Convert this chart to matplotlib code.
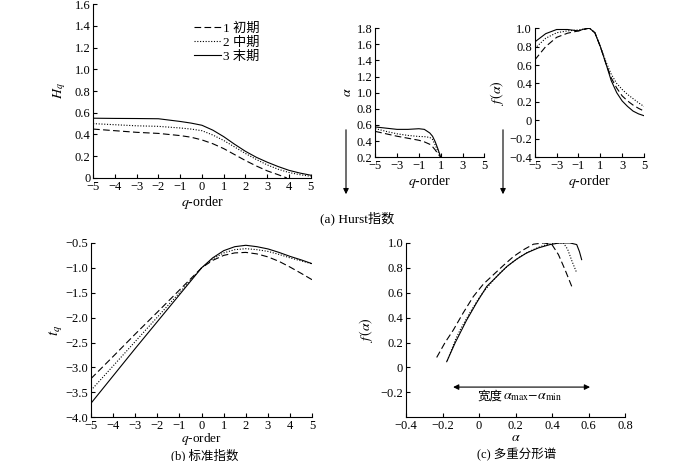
import matplotlib
matplotlib.use("Agg")
import matplotlib.pyplot as plt
from matplotlib.ticker import FuncFormatter
from matplotlib.patches import FancyArrowPatch

plt.rcParams['font.family'] = ['Liberation Serif', 'Noto Sans CJK SC']
plt.rcParams['mathtext.fontset'] = 'stix'
plt.rcParams['font.size'] = 9

labels = ['1 初期', '2 中期', '3 末期']
styles = [(0, (6, 3)), (0, (1, 1.5)), '-']

# (a) Hq
q_h1 = [-5, -4, -3, -2, -1, -0.5, 0, 0.5, 1, 1.5, 2, 2.5, 3, 3.5, 3.9]
hq1 = [0.45, 0.435, 0.42, 0.41, 0.39, 0.375, 0.35, 0.315, 0.27, 0.215, 0.16, 0.11, 0.065, 0.03, 0.0]
q_h = [-5, -4, -3, -2, -1, -0.5, 0, 0.5, 1, 1.5, 2, 2.5, 3, 3.5, 4, 4.5, 5]
hq2 = [0.50, 0.49, 0.48, 0.475, 0.46, 0.45, 0.435, 0.395, 0.345, 0.285, 0.225, 0.17, 0.12, 0.08, 0.05, 0.03, 0.015]
hq3 = [0.55, 0.548, 0.547, 0.545, 0.52, 0.505, 0.485, 0.44, 0.38, 0.31, 0.245, 0.19, 0.145, 0.105, 0.07, 0.045, 0.025]

# alpha vs q
q_a = [-5, -4, -3, -2, -1, -0.5, 0, 0.25, 0.5, 0.75, 1]
a1 = [0.52, 0.49, 0.46, 0.435, 0.41, 0.39, 0.36, 0.33, 0.29, 0.24, 0.2]
a2 = [0.555, 0.52, 0.49, 0.47, 0.457, 0.455, 0.445, 0.42, 0.35, 0.27, 0.2]
a3 = [0.575, 0.56, 0.545, 0.545, 0.553, 0.545, 0.50, 0.46, 0.39, 0.30, 0.2]

# f(alpha) vs q
q_f = [-5, -4, -3, -2, -1, -0.5, 0, 0.5, 1, 1.5, 2, 2.5, 3, 3.5, 4, 4.5, 5]
f1 = [0.655, 0.80, 0.90, 0.945, 0.97, 0.985, 1.0, 0.95, 0.80, 0.62, 0.46, 0.35, 0.265, 0.21, 0.165, 0.13, 0.10]
f2 = [0.78, 0.89, 0.95, 0.97, 0.98, 0.99, 1.0, 0.95, 0.80, 0.64, 0.50, 0.40, 0.335, 0.28, 0.235, 0.19, 0.15]
f3 = [0.85, 0.94, 0.985, 0.985, 0.97, 0.99, 1.0, 0.95, 0.80, 0.62, 0.43, 0.30, 0.21, 0.15, 0.10, 0.07, 0.05]

# (b) tq
q_t = [-5, -4, -3, -2, -1, 0, 0.5, 1, 1.5, 2, 2.5, 3, 3.5, 4, 4.5, 5]
t1 = [-3.225, -2.78, -2.33, -1.89, -1.445, -1.0, -0.85, -0.75, -0.70, -0.69, -0.72, -0.78, -0.87, -0.985, -1.11, -1.24]
t2 = [-3.46, -2.97, -2.48, -1.99, -1.50, -1.0, -0.82, -0.70, -0.635, -0.615, -0.635, -0.67, -0.73, -0.80, -0.86, -0.92]
t3 = [-3.72, -3.17, -2.62, -2.08, -1.54, -1.0, -0.80, -0.655, -0.575, -0.547, -0.575, -0.62, -0.69, -0.77, -0.84, -0.917]

# (c) spectrum
al1 = [-0.232, -0.186, -0.141, -0.086, -0.031, 0.024, 0.079, 0.134, 0.188, 0.243, 0.298, 0.353, 0.398, 0.435, 0.471, 0.508]
fa1 = [0.08, 0.20, 0.30, 0.44, 0.57, 0.67, 0.745, 0.82, 0.89, 0.945, 0.99, 1.0, 0.99, 0.906, 0.785, 0.65]
al2 = [-0.174, -0.13, -0.104, -0.05, 0.005, 0.06, 0.115, 0.17, 0.225, 0.28, 0.334, 0.38, 0.43, 0.462, 0.485, 0.51, 0.535]
fa2 = [0.054, 0.22, 0.30, 0.44, 0.57, 0.67, 0.76, 0.83, 0.89, 0.935, 0.97, 0.99, 1.0, 1.0, 0.95, 0.85, 0.76]
al3 = [-0.177, -0.13, -0.068, -0.013, 0.042, 0.097, 0.152, 0.206, 0.261, 0.325, 0.389, 0.44, 0.498, 0.535, 0.55, 0.562]
fa3 = [0.046, 0.20, 0.38, 0.52, 0.65, 0.73, 0.81, 0.87, 0.92, 0.96, 0.987, 1.0, 1.0, 0.987, 0.93, 0.866]


def fmt(v, pos):
    if abs(v) < 1e-9:
        return '0'
    return ('%.1f' % v).replace('-', '\u2212')


def fmt_int(v, pos):
    return ('%d' % round(v)).replace('-', '\u2212')


def style(ax):
    for s in ['top', 'right']:
        ax.spines[s].set_visible(False)
    for s in ['left', 'bottom']:
        ax.spines[s].set_linewidth(0.8)
    ax.tick_params(direction='in', length=3, width=0.8, labelsize=9, pad=2)


fig = plt.figure(figsize=(7, 4.61), dpi=100)

ax1 = fig.add_axes([0.133, 0.614, 0.311, 0.377])
ax1.plot(q_h1, hq1, color='k', lw=0.8, ls=styles[0], label=labels[0])
ax1.plot(q_h, hq2, color='k', lw=0.8, ls=styles[1], label=labels[1])
ax1.plot(q_h, hq3, color='k', lw=0.8, ls=styles[2], label=labels[2])
ax1.set_xlim(-5, 5)
ax1.set_ylim(0, 1.6)
ax1.set_xticks(range(-5, 6))
ax1.set_yticks([0, 0.2, 0.4, 0.6, 0.8, 1.0, 1.2, 1.4, 1.6])
ax1.xaxis.set_major_formatter(FuncFormatter(fmt_int))
ax1.yaxis.set_major_formatter(FuncFormatter(fmt))
ax1.set_ylabel(r'$H_q$', fontsize=10, labelpad=5)
ax1.set_xlabel(r'$q$-order', fontsize=10, labelpad=1)
style(ax1)
ax1.legend(loc='upper left', bbox_to_anchor=(0.44, 0.925), frameon=False,
           handlelength=2.0, handletextpad=0.15, labelspacing=0.12,
           borderaxespad=0, fontsize=9.5)

ax2 = fig.add_axes([0.536, 0.659, 0.156, 0.280])
for y, ls in zip([a1, a2, a3], styles):
    ax2.plot(q_a, y, color='k', lw=0.8, ls=ls)
ax2.set_xlim(-5, 5)
ax2.set_ylim(0.2, 1.8)
ax2.set_xticks([-5, -3, -1, 1, 3, 5])
ax2.set_yticks([0.2, 0.4, 0.6, 0.8, 1.0, 1.2, 1.4, 1.6, 1.8])
ax2.xaxis.set_major_formatter(FuncFormatter(fmt_int))
ax2.yaxis.set_major_formatter(FuncFormatter(fmt))
ax2.set_ylabel(r'$\alpha$', fontsize=10, labelpad=2)
ax2.set_xlabel(r'$q$-order', fontsize=10, labelpad=1)
style(ax2)

ax3 = fig.add_axes([0.764, 0.659, 0.156, 0.280])
for y, ls in zip([f1, f2, f3], styles):
    ax3.plot(q_f, y, color='k', lw=0.8, ls=ls)
ax3.set_xlim(-5, 5)
ax3.set_ylim(-0.4, 1.0)
ax3.set_xticks([-5, -3, -1, 1, 3, 5])
ax3.set_yticks([-0.4, -0.2, 0, 0.2, 0.4, 0.6, 0.8, 1.0])
ax3.xaxis.set_major_formatter(FuncFormatter(fmt_int))
ax3.yaxis.set_major_formatter(FuncFormatter(fmt))
ax3.set_ylabel(r'$f\,(\alpha)$', fontsize=10, labelpad=2)
ax3.set_xlabel(r'$q$-order', fontsize=10, labelpad=1)
style(ax3)

for xp in [346, 503]:
    fig.add_artist(FancyArrowPatch((xp / 700, 1 - 127 / 461), (xp / 700, 1 - 197 / 461),
                                   transform=fig.transFigure, arrowstyle='-|>',
                                   mutation_scale=8, color='k', lw=0.8))

fig.text(320 / 700, 1 - 218 / 461, '(a) Hurst指数', ha='left', va='center', fontsize=9.5)

ax4 = fig.add_axes([0.130, 0.095, 0.316, 0.378])
for y, ls in zip([t1, t2, t3], styles):
    ax4.plot(q_t, y, color='k', lw=0.8, ls=ls)
ax4.set_xlim(-5, 5)
ax4.set_ylim(-4.0, -0.5)
ax4.set_xticks(range(-5, 6))
ax4.set_yticks([-4.0, -3.5, -3.0, -2.5, -2.0, -1.5, -1.0, -0.5])
ax4.xaxis.set_major_formatter(FuncFormatter(fmt_int))
ax4.yaxis.set_major_formatter(FuncFormatter(fmt))
ax4.set_ylabel(r'$t_q$', fontsize=11, labelpad=1)
ax4.set_xlabel(r'$q$-order', fontsize=9.5, labelpad=-1)
style(ax4)
fig.text(205 / 700, 1 - 455 / 461, '(b) 标准指数', ha='center', va='center', fontsize=9)

ax5 = fig.add_axes([0.580, 0.095, 0.313, 0.378])
ax5.plot(al1, fa1, color='k', lw=0.8, ls=styles[0])
ax5.plot(al2, fa2, color='k', lw=0.8, ls=styles[1])
ax5.plot(al3, fa3, color='k', lw=0.8, ls=styles[2])
ax5.set_xlim(-0.4, 0.8)
ax5.set_ylim(-0.4, 1.0)
ax5.set_xticks([-0.4, -0.2, 0, 0.2, 0.4, 0.6, 0.8])
ax5.set_yticks([-0.2, 0, 0.2, 0.4, 0.6, 0.8, 1.0])
ax5.xaxis.set_major_formatter(FuncFormatter(fmt))
ax5.yaxis.set_major_formatter(FuncFormatter(fmt))
ax5.set_ylabel(r'$f\,(\alpha)$', fontsize=10, labelpad=4)
ax5.set_xlabel(r'$\alpha$', fontsize=10, labelpad=-1)
style(ax5)
ax5.annotate('', xy=(-0.142, -0.158), xytext=(0.608, -0.158),
             arrowprops=dict(arrowstyle='<|-|>', color='k', lw=0.8, mutation_scale=8,
                             shrinkA=0, shrinkB=0))
ax5.text(0.13, -0.235, '宽度', ha='right', va='center', fontsize=9)
ax5.text(0.13, -0.235, r'$\alpha_{\max}$$-\alpha_{\min}$', ha='left', va='center', fontsize=10)
fig.text(517 / 700, 1 - 455 / 461, '(c) 多重分形谱', ha='center', va='center', fontsize=9)

fig.savefig('out.png', dpi=100)
